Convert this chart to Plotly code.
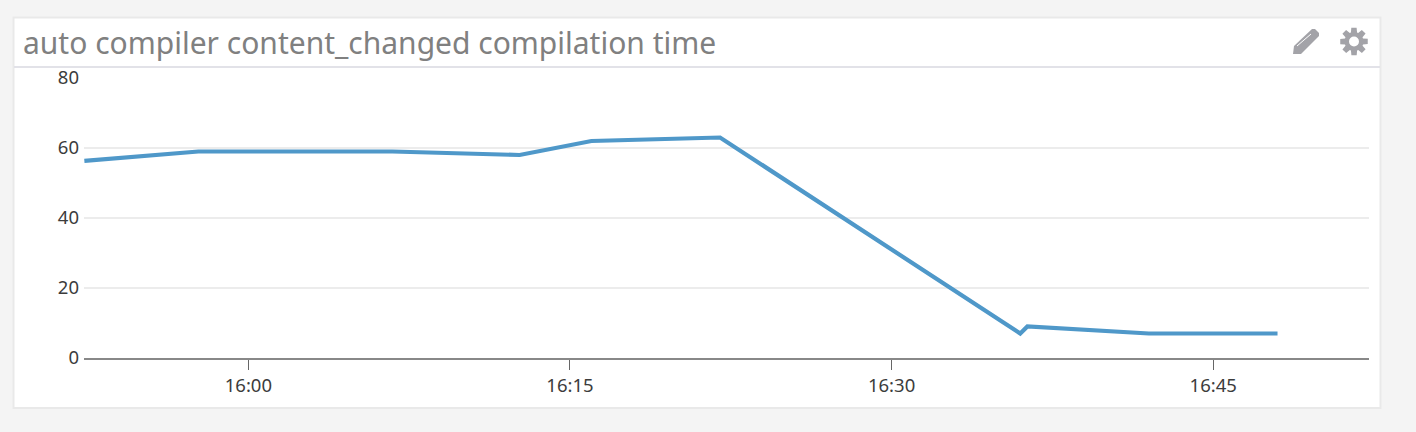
import math

import plotly.graph_objects as go

W, H = 1416, 432
# plot area in pixels
LEFT, RIGHT, TOP, BOTTOM = 84, 1369, 78, 358

TITLE = "auto compiler content_changed compilation time"
DAY = "2018-03-07 "
times = ["15:52:21", "15:57:40", "16:06:43", "16:12:39", "16:16:00", "16:22:00",
         "16:36:00", "16:36:20", "16:42:00", "16:48:00"]
values = [56.3, 59, 59, 58, 62, 63, 7, 9, 7, 7]
x_ticks = ["16:00", "16:15", "16:30", "16:45"]
y_ticks = [0, 20, 40, 60, 80]
x_range = ["15:52:20", "16:52:16"]


def px(x):
    return (x - LEFT) / (RIGHT - LEFT)


def py(y):
    return (BOTTOM - y) / (BOTTOM - TOP)


def path(points):
    return "M" + "L".join(f"{px(x):.5f},{py(y):.5f}" for x, y in points) + "Z"


def rect(x0, y0, x1, y1, fill, line=None, width=0):
    return dict(type="rect", xref="paper", yref="paper", layer="below",
                x0=px(x0), x1=px(x1), y0=py(y0), y1=py(y1), fillcolor=fill,
                line=dict(color=line, width=width) if line else dict(width=0))


def gear(cx, cy):
    pts = []
    for i in range(8):
        a = i * math.pi / 4 - math.pi / 8
        for off, r in [(0.06, 9.5), (0.2, 14), (0.58, 14), (0.72, 9.5)]:
            pts.append((cx + r * math.cos(a + off), cy + r * math.sin(a + off)))
    return pts


fig = go.Figure()
fig.add_trace(go.Scatter(
    x=[DAY + t for t in times], y=values, mode="lines",
    line=dict(color="#4f98c9", width=4.2), hoverinfo="skip",
))

icon_color = "#a3a3a8"
shapes = [
    rect(13.5, 17.5, 1380.5, 408, "#ffffff", "#e9e9e9", 2),
    rect(14, 66, 1380, 68, "#e2e2e8"),
    # pencil
    dict(type="path", xref="paper", yref="paper", fillcolor=icon_color, line=dict(width=0),
         path=path([(1293, 54), (1294, 46), (1312, 29), (1315, 29), (1319, 33), (1319, 36),
                    (1301, 54)])),
    dict(type="line", xref="paper", yref="paper", line=dict(color="#ffffff", width=1),
         x0=px(1297), y0=py(46), x1=px(1311), y1=py(34)),
    # gear
    dict(type="path", xref="paper", yref="paper", fillcolor=icon_color, line=dict(width=0),
         path=path(gear(1354, 41.5))),
    dict(type="circle", xref="paper", yref="paper", fillcolor="#ffffff", line=dict(width=0),
         x0=px(1349), x1=px(1359), y0=py(36.5), y1=py(46.5)),
]

fig.update_layout(
    width=W, height=H, showlegend=False,
    paper_bgcolor="#f4f4f4", plot_bgcolor="#ffffff",
    margin=dict(l=LEFT, r=W - RIGHT, t=TOP, b=H - BOTTOM, autoexpand=False),
    font=dict(family="Noto Sans", size=18.5, color="#3c3c3c"),
    shapes=shapes,
    annotations=[dict(
        text=TITLE, xref="paper", yref="paper", x=px(21), y=py(42),
        xanchor="left", yanchor="middle", showarrow=False,
        font=dict(family="Noto Sans", size=30, color="#808080"),
    )],
)
fig.update_xaxes(
    range=[DAY + x_range[0], DAY + x_range[1]],
    tickvals=[DAY + t + ":00" for t in x_ticks], ticktext=x_ticks,
    showgrid=False, zeroline=False, showline=True, linecolor="#888888", linewidth=1.5,
    ticks="outside", ticklen=10, tickwidth=1, tickcolor="#666666",
)
fig.update_yaxes(
    range=[0, 80], tickvals=y_ticks, showgrid=True, gridcolor="#ececec", gridwidth=2,
    zeroline=False, showline=False, ticks="", ticklabelstandoff=4,
)

fig.write_html("out.html", config=dict(displayModeBar=False),
               post_script="document.body.style.margin='0';document.body.style.overflow='hidden';")
